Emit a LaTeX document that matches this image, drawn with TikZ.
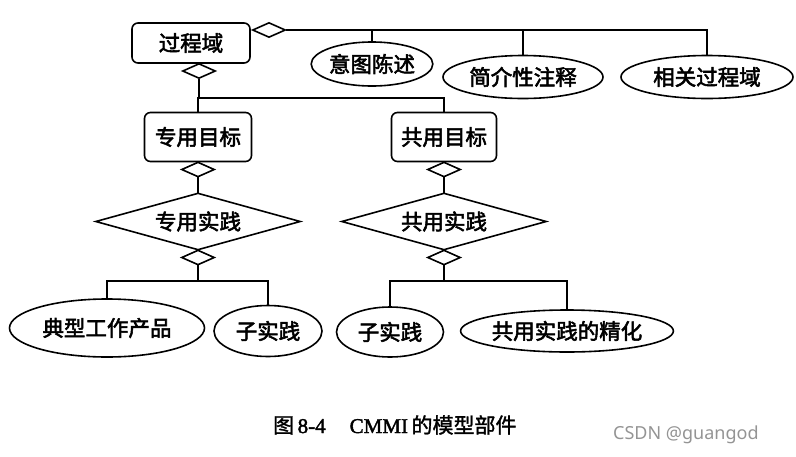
\documentclass[tikz,border=0pt]{standalone}
\usepackage{fontspec}
\usetikzlibrary{shapes.geometric}
\newfontfamily\cjk{Noto Sans CJK SC}[FakeBold=2.5]
\newfontfamily\capcjk{Noto Sans CJK SC}[FakeBold=1.5]
\newfontfamily\capser{Liberation Serif}[FakeBold=2]
\newfontfamily\wm{Noto Sans}
\tikzset{
  lbl/.style={font=\cjk\fontsize{21.5}{21.5}\selectfont, text=black, inner sep=0pt},
  boxnode/.style={lbl, draw, line width=1.6pt, rounded corners=6pt, minimum width=107pt, minimum height=49pt},
  ellnode/.style={lbl, draw, ellipse, line width=1.6pt},
  bigdia/.style={lbl, draw, diamond, line width=1.6pt, minimum width=205pt, minimum height=57pt, aspect=3.6},
  smalldia/.style={draw, diamond, line width=1.6pt, minimum width=33pt, minimum height=15pt, aspect=2.2, inner sep=0pt, fill=white},
  conn/.style={line width=1.6pt, line cap=rect}
}
\begin{document}
\begin{tikzpicture}[x=1pt, y=-1pt]
\useasboundingbox (0,0) rectangle (796,456);
% top box
\node[boxnode, minimum width=118pt, minimum height=40pt] (pa) at (191,43) {过程域};
\node[smalldia] (d0) at (269,30) {};
\node[ellnode, minimum width=119pt, minimum height=44pt] (e1) at (372,64) {意图陈述};
\node[ellnode, minimum width=160pt, minimum height=43pt] (e2) at (523,77) {简介性注释};
\node[ellnode, minimum width=172pt, minimum height=43pt] (e3) at (707,77) {相关过程域};
\coordinate (t1) at (372,30);
\coordinate (t2) at (523,30);
\coordinate (t3) at (707,30);
\draw[conn] (d0.east) -- (t3) -- (e3.north);
\draw[conn] (t1) -- (e1.north);
\draw[conn] (t2) -- (e2.north);
% goals
\node[smalldia] (d1) at (199,71) {};
\node[boxnode] (g1) at (198,137) {专用目标};
\node[boxnode, minimum width=105pt] (g2) at (444,137) {共用目标};
\coordinate (b1) at (198,98);
\coordinate (b2) at (444,98);
\draw[conn] (d1.south) -- (d1.south |- b1) -- (b2) -- (g2.north);
\draw[conn] (b1) -- (g1.north);
% practices
\node[smalldia] (d2) at (198,169.5) {};
\node[smalldia] (d2r) at (444,169.5) {};
\node[bigdia] (p1) at (198,221.5) {专用实践};
\node[bigdia] (p2) at (444,221.5) {共用实践};
\draw[conn] (d2.south) -- (p1.north);
\draw[conn] (d2r.south) -- (p2.north);
\node[smalldia] (d3) at (198,257.5) {};
\node[smalldia] (d3r) at (444,257.5) {};
% bottom ellipses
\node[ellnode, minimum width=195pt, minimum height=58pt] (w1) at (107,328) {典型工作产品};
\node[ellnode, minimum width=108pt, minimum height=51pt] (s1) at (268,331) {子实践};
\node[ellnode, minimum width=107pt, minimum height=50pt] (s2) at (390,332) {子实践};
\node[ellnode, minimum width=209pt, minimum height=42pt] (r2) at (567,331) {共用实践的精化};
\coordinate (c1) at (198,281);
\coordinate (c1a) at (107,281);
\coordinate (c1b) at (268,281);
\draw[conn] (d3.south) -- (c1);
\draw[conn] (w1.north) -- (c1a) -- (c1b) -- (s1.north);
\coordinate (c2) at (444,281);
\coordinate (c2a) at (390,281);
\coordinate (c2b) at (567,281);
\draw[conn] (d3r.south) -- (c2);
\draw[conn] (s2.north) -- (c2a) -- (c2b) -- (r2.north);
% caption
\node[anchor=west, inner sep=0pt, font=\fontsize{21}{21}\selectfont] (cap) at (273,425)
  {{\capcjk 图}\,{\capser 8-4}\hspace{24pt}{\capser CMMI}\,{\capcjk 的模型部件}};
\node[anchor=west, inner sep=0pt, text=black!42, font=\wm\fontsize{18}{18}\selectfont] (wmk) at (613,435) {CSDN @guangod};
\end{tikzpicture}
\end{document}
